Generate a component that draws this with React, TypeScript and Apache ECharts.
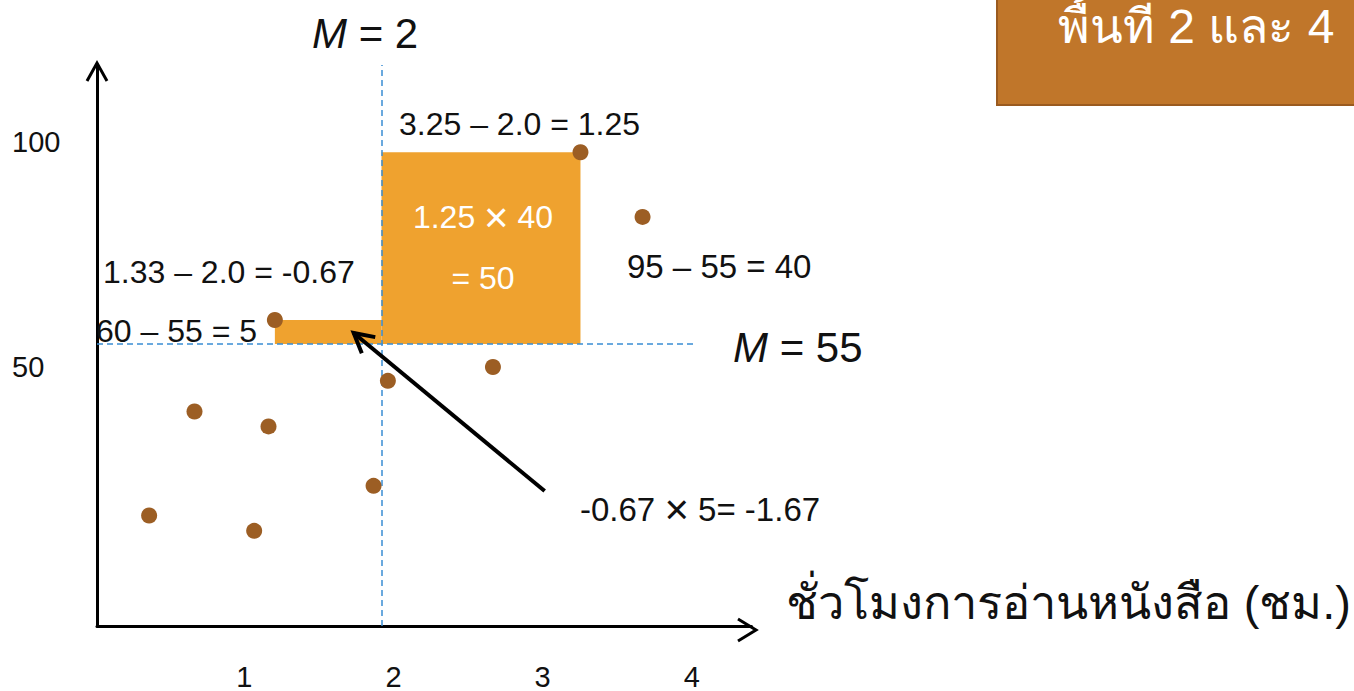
import React, { useEffect, useRef } from 'react';
import * as echarts from 'echarts';

// Tick labels
const xTicks = [1, 2, 3, 4];
const yTicks = [50, 100];

// Reading hours (x) and scores (y) of the students
const hoursX = [0.54, 0.825, 1.2, 1.29, 1.33, 1.95, 2.04, 2.7, 3.25, 3.64];
const scoreY = [19.2, 40.9, 16.0, 37.8, 60, 25.4, 47.3, 50.2, 95, 81.5];

// Medians
const medianX = 2;
const medianY = 55;

// Deviation-product areas: [x0, y0, x1, y1]
const areaSmall = [1.33, 55, 2.0, 60];
const areaLarge = [2.0, 55, 3.25, 95];

// Pointer arrow towards the small area
const arrowFrom = [3.025, 24.3];
const arrowTo = [1.825, 57.3];

const FONT = "'Liberation Sans', 'Noto Sans', sans-serif";
const ORANGE = '#EFA22F';
const DOT = '#9C5E24';
const BLUE = '#3A8DD3';

// hidden data scale of the marks
const X_MIN = 0.2125;
const X_MAX = 4.325;
const Y_MIN = -3.85;
const Y_MAX = 113.2;

export default function App() {
  const ref = useRef<HTMLDivElement>(null);

  useEffect(() => {
    if (!ref.current) return;
    const chart = echarts.init(ref.current, undefined, { renderer: 'svg' });

    const points = hoursX.map((x, i) => [x, scoreY[i]]);

    const rich = {
      i: { fontStyle: 'italic', fontSize: 42, fontFamily: FONT },
      x: { fontSize: 42, fontFamily: FONT, fontWeight: 300 },
      xw: { fontSize: 42, fontFamily: FONT, fontWeight: 300, fill: '#fff' },
    };

    const txt = (text: string, x: number, y: number, size: number, extra: any = {}) => ({
      type: 'text',
      x,
      y,
      z: 20,
      style: {
        text,
        fontSize: size,
        fontFamily: FONT,
        fill: '#111',
        textVerticalAlign: 'middle',
        textAlign: 'left',
        rich,
        ...extra,
      },
    });

    const option: any = {
      animation: false,
      backgroundColor: '#fff',
      grid: { left: 97, top: 65, width: 658, height: 565 },
      xAxis: [
        {
          type: 'value',
          show: false,
          min: X_MIN,
          max: X_MAX,
        },
        {
          // tick labels, axis line and axis title
          type: 'value',
          position: 'bottom',
          min: 0.01333,
          max: 4.4,
          axisLine: { show: true, onZero: false, lineStyle: { color: '#000', width: 3 } },
          axisTick: { show: false },
          splitLine: { show: false },
          axisLabel: {
            customValues: xTicks,
            margin: 36,
            fontSize: 29,
            fontFamily: FONT,
            color: '#111',
          },
          name: 'ชั่วโมงการอ่านหนังสือ (ชม.)',
          nameLocation: 'end',
          nameGap: 34,
          nameTextStyle: {
            fontSize: 47,
            fontWeight: 300,
            fontFamily: FONT,
            color: '#111',
            align: 'left',
            verticalAlign: 'bottom',
          },
        },
      ],
      yAxis: [
        {
          type: 'value',
          show: false,
          position: 'left',
          min: Y_MIN,
          max: Y_MAX,
        },
        {
          type: 'value',
          position: 'left',
          min: -7.743,
          max: 117.257,
          axisLine: { show: true, onZero: false, lineStyle: { color: '#000', width: 3 } },
          axisTick: { show: false },
          splitLine: { show: false },
          axisLabel: {
            customValues: yTicks,
            margin: 85,
            align: 'left',
            fontSize: 29,
            fontFamily: FONT,
            color: '#111',
          },
        },
      ],
      series: [
        {
          type: 'custom',
          xAxisIndex: 0,
          yAxisIndex: 0,
          z: 1,
          silent: true,
          data: [areaSmall, areaLarge],
          renderItem: (_p: any, api: any) => {
            const a = api.coord([api.value(0), api.value(1)]);
            const b = api.coord([api.value(2), api.value(3)]);
            return {
              type: 'rect',
              shape: {
                x: Math.min(a[0], b[0]),
                y: Math.min(a[1], b[1]),
                width: Math.abs(b[0] - a[0]),
                height: Math.abs(b[1] - a[1]),
              },
              style: { fill: ORANGE },
            };
          },
        },
        {
          type: 'scatter',
          xAxisIndex: 0,
          yAxisIndex: 0,
          z: 5,
          symbolSize: 16,
          itemStyle: { color: DOT, opacity: 1 },
          data: points,
          markLine: {
            silent: true,
            symbol: 'none',
            z: 3,
            label: { show: false },
            lineStyle: { color: BLUE, type: [6, 4], width: 1.5 },
            data: [
              [{ coord: [medianX, Y_MIN] }, { coord: [medianX, Y_MAX] }],
              [{ coord: [X_MIN, medianY] }, { coord: [3.96, medianY] }],
            ],
          },
        },
        {
          type: 'custom',
          xAxisIndex: 0,
          yAxisIndex: 0,
          z: 6,
          silent: true,
          data: [[arrowFrom[0], arrowFrom[1], arrowTo[0], arrowTo[1]]],
          renderItem: (_p: any, api: any) => {
            const a = api.coord([api.value(0), api.value(1)]);
            const b = api.coord([api.value(2), api.value(3)]);
            const ang = Math.atan2(b[1] - a[1], b[0] - a[0]);
            const L = 22;
            const s = 0.5;
            const h1 = [b[0] - L * Math.cos(ang - s), b[1] - L * Math.sin(ang - s)];
            const h2 = [b[0] - L * Math.cos(ang + s), b[1] - L * Math.sin(ang + s)];
            return {
              type: 'group',
              children: [
                {
                  type: 'line',
                  shape: { x1: a[0], y1: a[1], x2: b[0], y2: b[1] },
                  style: { stroke: '#000', lineWidth: 4 },
                },
                {
                  type: 'polyline',
                  shape: { points: [h1, b, h2] },
                  style: { stroke: '#000', lineWidth: 4, fill: 'none' },
                },
              ],
            };
          },
        },
      ],
      graphic: [
        // arrowheads of the axes
        {
          type: 'polyline',
          z: 10,
          shape: { points: [[87, 81], [97, 63], [107, 81]] },
          style: { stroke: '#000', lineWidth: 3, fill: 'none' },
        },
        {
          type: 'polyline',
          z: 10,
          shape: { points: [[738, 619], [756, 630], [738, 641]] },
          style: { stroke: '#000', lineWidth: 3, fill: 'none' },
        },
        // title box
        {
          type: 'rect',
          z: 10,
          shape: { x: 997, y: -6, width: 370, height: 111 },
          style: { fill: '#C0762A', stroke: '#9A5A1F', lineWidth: 2 },
        },
        txt('พื้นที่ 2 และ 4', 1058, 26, 48, { fill: '#fff', fontWeight: 300 }),
        // median labels
        txt('{i|M} = 2', 312, 33, 42),
        txt('{i|M} = 55', 733, 347, 42),
        // deviation annotations
        txt('3.25 – 2.0 = 1.25', 399, 124, 32),
        txt('1.33 – 2.0 = -0.67', 103, 272, 32),
        txt('60 – 55 = 5', 96, 331, 32),
        txt('95 – 55 = 40', 627, 266, 33),
        txt('1.25 {xw|×} 40', 483, 217, 32, { fill: '#fff', textAlign: 'center' }),
        txt('= 50', 483, 278, 32, { fill: '#fff', textAlign: 'center' }),
        txt('-0.67 {x|×} 5= -1.67', 580, 509, 33),
      ],
    };

    chart.setOption(option);
    return () => chart.dispose();
  }, []);

  return (
    <div
      ref={ref}
      style={{ position: 'fixed', left: 0, top: 0, width: 1354, height: 691 }}
    />
  );
}
